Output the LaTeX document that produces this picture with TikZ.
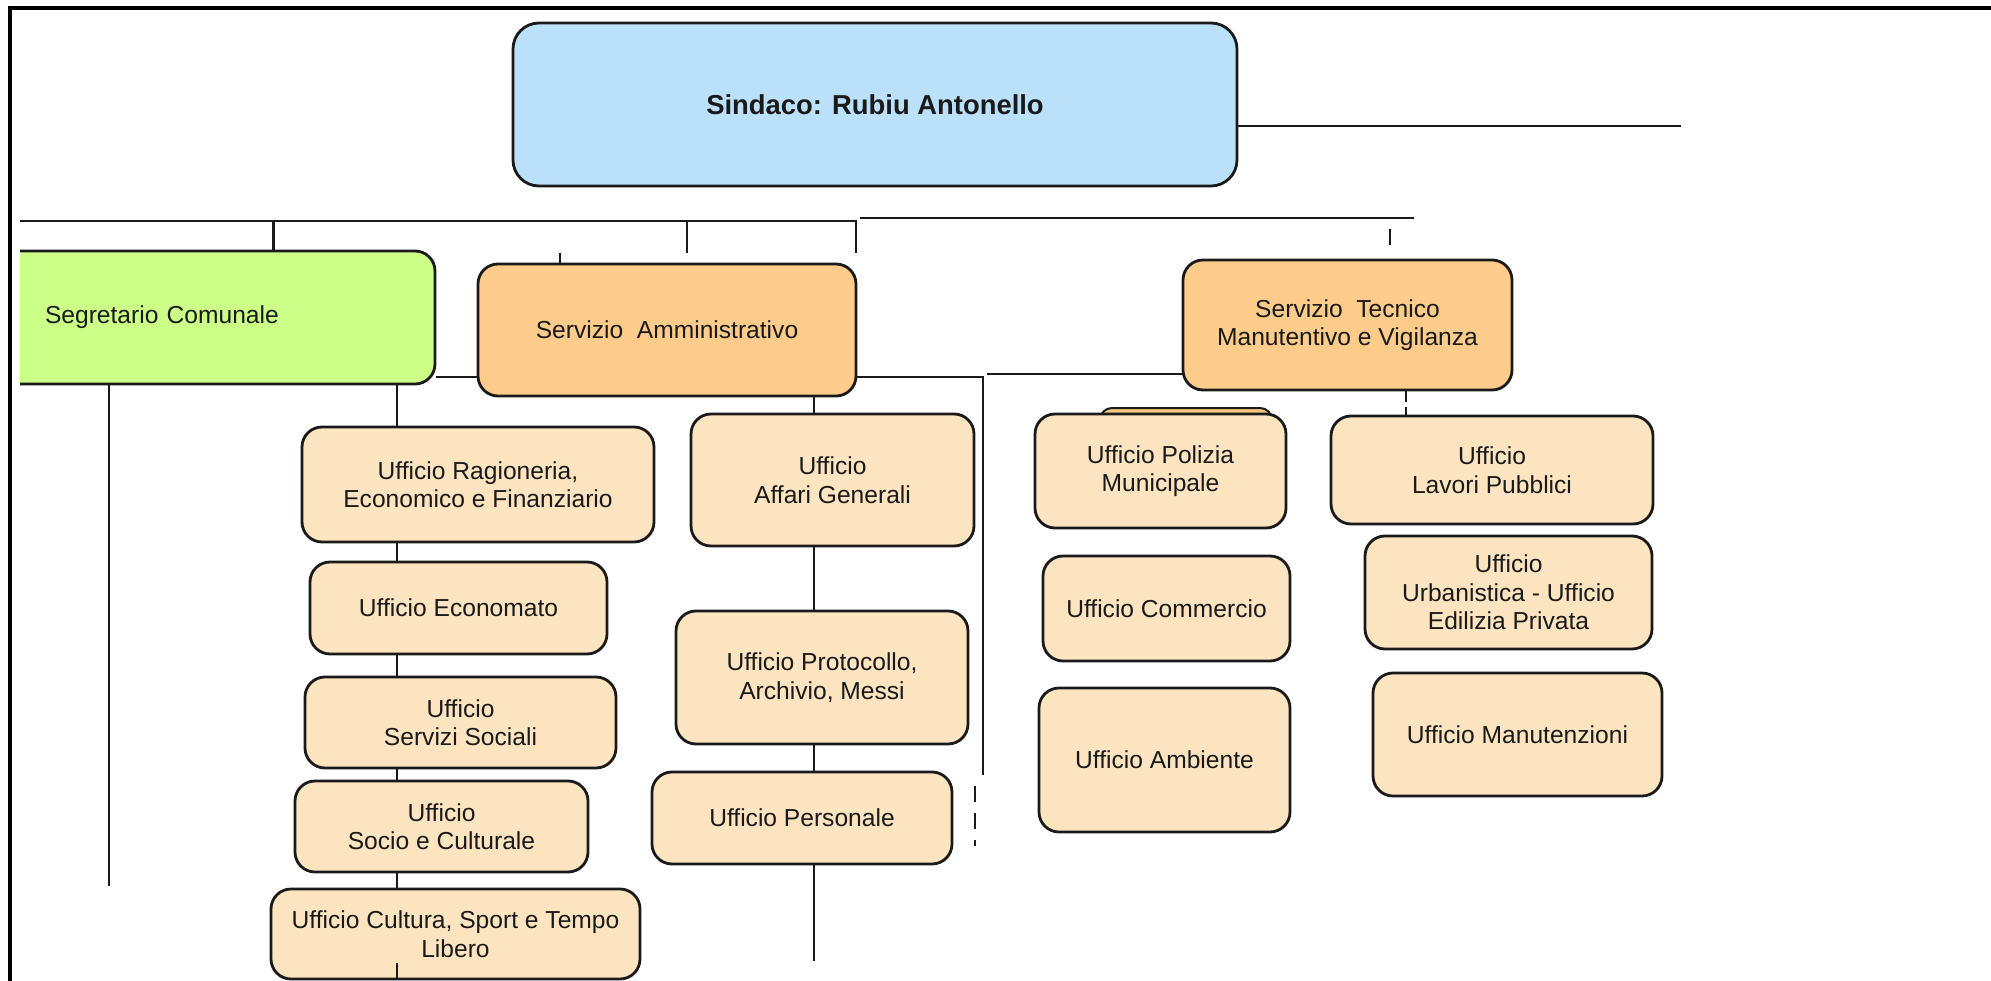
\documentclass[tikz,border=0pt]{standalone}
\usepackage{fontspec}
\setmainfont{Liberation Sans}
\definecolor{sindfill}{HTML}{BBE0FA}
\definecolor{segfill}{HTML}{CCFF88}
\definecolor{servfill}{HTML}{FDCC8A}
\definecolor{offfill}{HTML}{FDE4C0}
\definecolor{tabfill}{HTML}{F3C57E}
\definecolor{ink}{HTML}{1A1A1A}
\begin{document}
\begin{tikzpicture}[x=1pt,y=-1pt,
  box/.style={draw=ink, line width=2.8pt, rounded corners=20pt, inner sep=0pt,
    align=center, text=ink, font=\fontsize{24.6}{28.5}\selectfont},
  office/.style={box, fill=offfill},
  serv/.style={box, fill=servfill},
  conn/.style={draw=ink, line width=2.6pt},
  dconn/.style={conn, dash pattern=on 14pt off 10pt},
]
\useasboundingbox (0,0) rectangle (1991,981);
\fill[white] (0,0) rectangle (1991,981);

% frame
\coordinate (frTL) at (10,8);
\coordinate (frTR) at (1991,8);
\coordinate (frBL) at (10,981);
\draw[draw=black, line width=3.6pt] (frBL) -- (frTL) -- (frTR);

% ---------- top level
\node[box, fill=sindfill, rounded corners=26pt, minimum width=724, minimum height=163,
  font=\fontsize{27.4}{31}\selectfont\bfseries] (sind) at (875,104.5) {Sindaco: Rubiu Antonello};
\coordinate (sindR) at (1681,126);
\draw[conn] (sind.east |- sindR) -- (sindR);

% bus lines
\coordinate (busL) at (20,221);
\coordinate (busM) at (857,221);
\coordinate (bus2L) at (860,218);
\coordinate (bus2R) at (1414,218);
\draw[conn] (busL) -- (busM);
\draw[conn] (bus2L) -- (bus2R);

% ---------- Segretario (clipped at left)
\begin{scope}
\clip (20,0) rectangle (1991,981);
\node[box, fill=segfill, minimum width=455, minimum height=133,
  text width=325, align=left] (seg) at (207.5,317.5) {Segretario Comunale};
\end{scope}

% ---------- services
\node[serv, minimum width=378, minimum height=132] (amm) at (667,330) {Servizio\ \ Amministrativo};
\node[serv, minimum width=329, minimum height=130] (tec) at (1347.5,325) {Servizio\ \ Tecnico\\Manutentivo e Vigilanza};

% ticks from the bus
\coordinate (t1) at (687,253);
\coordinate (t2) at (856,253);
\coordinate (t3a) at (560,253);
\coordinate (t4a) at (1390,229);
\coordinate (t4b) at (1390,245);
\draw[conn] (busL -| seg.north) ++(66,0) coordinate (t0) -- (t0 |- seg.north);
\draw[conn] (t1 |- busL) -- (t1);
\draw[conn] (t2 |- busL) -- (t2);
\draw[conn] (t3a) -- (t3a |- amm.north);
\draw[conn] (t4a) -- (t4b);

% Segretario -- Amministrativo
\coordinate (sa) at (0,377);
\draw[conn] (seg.east |- sa) -- (amm.west |- sa);

% left long line under Segretario
\coordinate (segL) at (109,886);
\draw[conn] (segL |- seg.south) -- (segL);

% ---------- left column offices
\coordinate (colA) at (397,889);
\draw[conn] (colA |- seg.south) -- (colA);
\node[office, minimum width=352, minimum height=115] (rag) at (478,484.5) {Ufficio Ragioneria,\\Economico e Finanziario};
\node[office, minimum width=297, minimum height=92] (eco) at (458.5,608) {Ufficio Economato};
\node[office, minimum width=311, minimum height=91] (soc) at (460.5,722.5) {Ufficio\\Servizi Sociali};
\node[office, minimum width=293, minimum height=91] (scu) at (441.5,826.5) {Ufficio\\Socio e Culturale};
\node[office, minimum width=369, minimum height=90] (cul) at (455.5,934) {Ufficio Cultura, Sport e Tempo\\Libero};
\coordinate (colAb) at (397,963);
\draw[conn] (colAb) -- (colAb |- cul.south);

% ---------- middle column offices
\coordinate (colB) at (814,961);
\draw[conn] (colB |- amm.south) -- (colB);
\node[office, minimum width=283, minimum height=132] (aff) at (832.5,480) {Ufficio\\Affari Generali};
\node[office, minimum width=292, minimum height=133] (pro) at (822,677.5) {Ufficio Protocollo,\\Archivio, Messi};
\node[office, minimum width=300, minimum height=92] (per) at (802,818) {Ufficio Personale};

% Amministrativo right branch
\coordinate (ar1) at (983,377);
\coordinate (ar2) at (983,775);
\draw[conn] (amm.east |- ar1) -- (ar1) -- (ar2);
\coordinate (dsh1) at (975,786);
\coordinate (dsh2) at (975,846);
\draw[dconn, dash pattern=on 16pt off 11pt] (dsh1) -- (dsh2);

% line to Tecnico
\coordinate (tl) at (987,374);
\draw[conn] (tl) -- (tec.west |- tl);

% ---------- right offices
\node[box, fill=tabfill, rounded corners=12pt, minimum width=172, minimum height=40, line width=2pt] (poltab) at (1186,428) {};
\node[office, minimum width=251, minimum height=114] (pol) at (1160.5,471) {Ufficio Polizia\\Municipale};
\node[office, minimum width=247, minimum height=105] (com) at (1166.5,608.5) {Ufficio Commercio};
\node[office, minimum width=251, minimum height=144] (amb) at (1164.5,760) {Ufficio Ambiente};

\node[office, minimum width=322, minimum height=108] (lav) at (1492,470) {Ufficio\\Lavori Pubblici};
\node[office, minimum width=287, minimum height=113] (urb) at (1508.5,592.5) {Ufficio\\Urbanistica - Ufficio\\Edilizia Privata};
\node[office, minimum width=289, minimum height=123] (man) at (1517.5,734.5) {Ufficio Manutenzioni};

\coordinate (tc) at (1406,0);
\draw[conn, dash pattern=on 11pt off 5pt] (tc |- tec.south) -- (tc |- lav.north);
\end{tikzpicture}
\end{document}
